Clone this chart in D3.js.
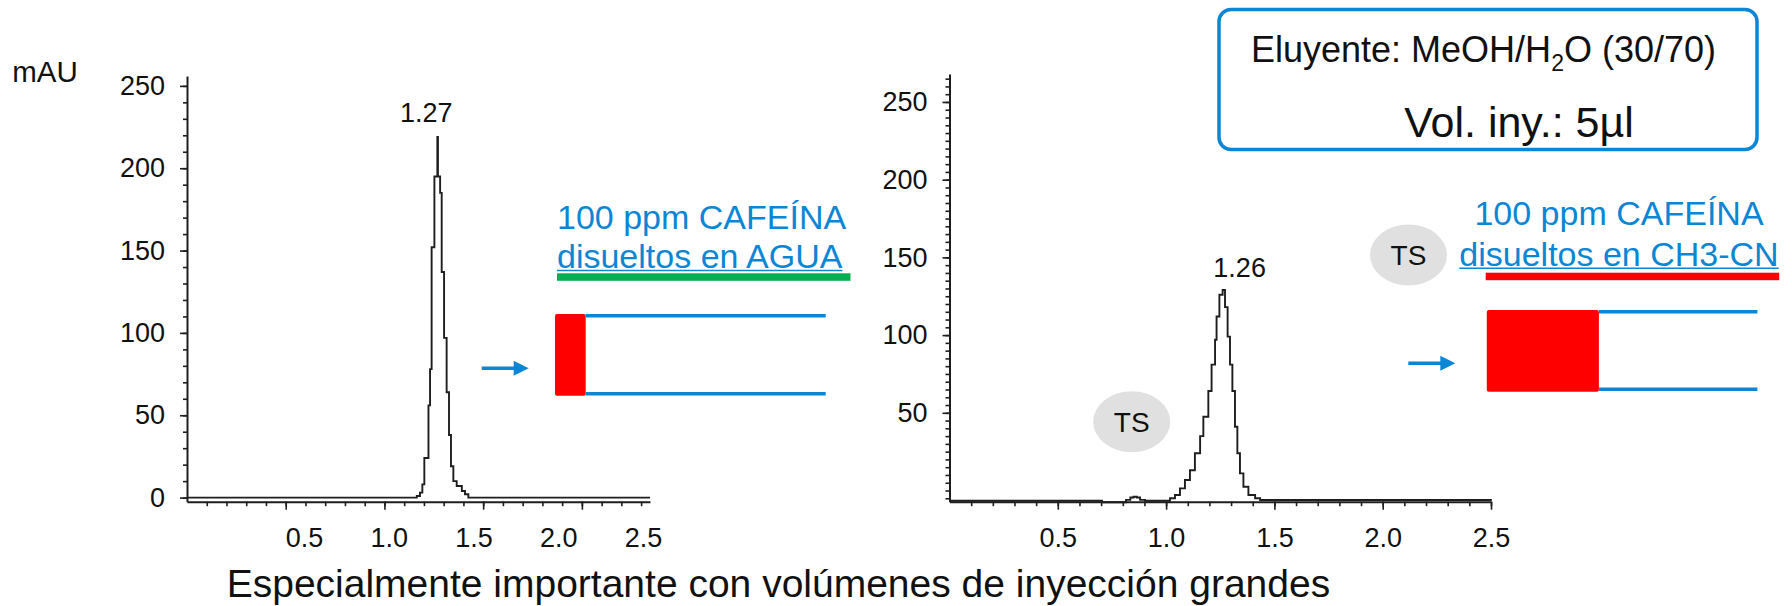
<!DOCTYPE html>
<html>
<head>
<meta charset="utf-8">
<script src="https://cdn.jsdelivr.net/npm/d3@7"></script>
<style>
    body { margin: 0; background: #fff; }
    svg { display: block; font-family: "Liberation Sans", Arial, sans-serif; }
</style>
</head>
<body>
<svg id="chart" width="1792" height="606"></svg>
<script>
// cafeina disuelta en agua: tiempo (min) / absorbancia (mAU), trazo escalonado
const aguaTime = [0, 1.138, 1.164, 1.180, 1.192, 1.202, 1.223, 1.231, 1.239, 1.253, 1.268, 1.271,
    1.282, 1.290, 1.302, 1.315, 1.327, 1.337, 1.349, 1.366, 1.392, 1.408, 1.425, 2.345];
const aguaAbs = [0, 0, 1, 3, 8, 24, 56, 78, 152, 195, 219, 195,
    185, 137, 97, 64, 38, 19, 10, 7, 4, 2, 0, 0];

// cafeina disuelta en CH3-CN (pico TS hacia 0.85 min)
const acnTime = [0, 0.704, 0.815, 0.835, 0.850, 0.865, 0.880, 0.903, 0.995, 1.018, 1.041, 1.064,
    1.087, 1.110, 1.133, 1.157, 1.172, 1.195, 1.210, 1.226, 1.233, 1.246, 1.261, 1.272,
    1.284, 1.295, 1.306, 1.318, 1.329, 1.341, 1.357, 1.380, 1.411, 1.434, 2.5];
const acnAbs = [-6.6, -7.6, -6, -4.5, -4, -4.5, -6, -6.6, -6.6, -5, -2.9, 1.4,
    6.8, 13, 24, 35, 47.5, 64, 81, 97, 112, 126, 129, 118,
    99, 81, 64, 41, 24, 11, 2.4, -2.9, -5, -6.1, -6.6];

const xTickLabels = [0.5, 1.0, 1.5, 2.0, 2.5];
const aguaYTicks = [0, 50, 100, 150, 200, 250];
const acnYTicks = [50, 100, 150, 200, 250];
const peakLabels = ["1.27", "1.26"];

const svg = d3.select("#chart");
const ink = "#1e1e1e";
const blue = "#0b86d5";
const font = "'Liberation Sans', Arial, sans-serif";

const panels = [
    {
        time: aguaTime, abs: aguaAbs, yTicks: aguaYTicks, yMinor: 10,
        x: d3.scaleLinear().domain([0, 2.345]).range([187, 650]),
        y: d3.scaleLinear().domain([-2.5, 256]).range([501.7, 76]),
        // en el original los rótulos del eje de tiempo no caen sobre las marcas
        xLabel: d3.scaleLinear().domain([0.5, 2.5]).range([304, 643]),
        peak: peakLabels[0], peakDx: -11, peakY: 121.5
    },
    {
        time: acnTime, abs: acnAbs, yTicks: acnYTicks, yMinor: 5,
        x: d3.scaleLinear().domain([0, 2.5]).range([949.5, 1491]),
        y: d3.scaleLinear().domain([-7.2, 268]).range([501.7, 74]),
        xLabel: null,
        peak: peakLabels[1], peakDx: 17, peakY: 276.5
    }
];

function styleAxis(g, showDomain) {
    g.attr("color", ink).attr("font-size", 27).attr("font-family", font);
    g.select(".domain").attr("stroke-width", 2).style("display", showDomain ? null : "none");
    g.selectAll(".tick line").attr("stroke-width", 1.6);
    g.selectAll(".tick text").attr("fill", "#111");
}

panels.forEach(p => {
    const [x0, x1] = p.x.domain();
    const [y0, y1] = p.y.domain();
    const baseY = p.y(y0);
    const leftX = p.x(x0);

    const minorX = d3.range(1, Math.floor(x1 * 10 + 1e-6) + 1).map(i => i / 10);
    const majorX = xTickLabels.filter(t => t <= x1 + 1e-6);

    svg.append("g").attr("transform", `translate(0,${baseY})`)
        .call(d3.axisBottom(p.x).tickValues(minorX).tickSize(4.5).tickSizeOuter(0).tickFormat(""))
        .call(g => styleAxis(g, true));
    svg.append("g").attr("transform", `translate(0,${baseY})`)
        .call(d3.axisBottom(p.x).tickValues(majorX).tickSize(8).tickSizeOuter(0).tickFormat(""))
        .call(g => styleAxis(g, false));
    svg.append("g").attr("transform", `translate(0,${baseY})`)
        .call(d3.axisBottom(p.xLabel || p.x).tickValues(xTickLabels).tickSize(0).tickPadding(26)
            .tickFormat(d3.format(".1f")))
        .call(g => styleAxis(g, false));

    const minorY = d3.range(Math.ceil(y0 / p.yMinor) * p.yMinor, y1 + 1e-6, p.yMinor);
    svg.append("g").attr("transform", `translate(${leftX},0)`)
        .call(d3.axisLeft(p.y).tickValues(minorY).tickSize(4).tickSizeOuter(0).tickFormat(""))
        .call(g => styleAxis(g, true));
    svg.append("g").attr("transform", `translate(${leftX},0)`)
        .call(d3.axisLeft(p.y).tickValues(p.yTicks).tickSize(7).tickPadding(15).tickSizeOuter(0))
        .call(g => styleAxis(g, false));

    const pts = p.time.map((t, i) => [t, p.abs[i]]);
    const line = d3.line().x(d => p.x(d[0])).y(d => p.y(d[1])).curve(d3.curveStepAfter);
    svg.append("path").datum(pts)
        .attr("d", line)
        .attr("fill", "none")
        .attr("stroke", ink)
        .attr("stroke-width", 1.9)
        .attr("stroke-linejoin", "miter");

    const top = pts.reduce((a, b) => (b[1] > a[1] ? b : a));
    svg.append("text")
        .attr("x", p.x(top[0]) + p.peakDx)
        .attr("y", p.peakY)
        .attr("text-anchor", "middle")
        .attr("font-size", 27)
        .attr("fill", "#111")
        .text(p.peak);
});

svg.append("text").attr("x", 45).attr("y", 81.7).attr("text-anchor", "middle")
    .attr("font-size", 29.5).attr("fill", "#111").text("mAU");

// cuadro de condiciones
svg.append("rect").attr("x", 1219).attr("y", 9.5).attr("width", 538).attr("height", 140)
    .attr("rx", 12).attr("fill", "#fff").attr("stroke", blue).attr("stroke-width", 3.5);
const elu = svg.append("text").attr("x", 1251).attr("y", 61.7).attr("font-size", 36).attr("fill", "#111");
elu.append("tspan").text("Eluyente: MeOH/H");
elu.append("tspan").attr("font-size", 23).attr("dy", 9).text("2");
elu.append("tspan").attr("dy", -9).text("O (30/70)");
svg.append("text").attr("x", 1519).attr("y", 137).attr("text-anchor", "middle")
    .attr("font-size", 43).attr("fill", "#111").text("Vol. iny.: 5µl");

// esquemas de inyeccion
function sample(cfg) {
    svg.append("text").attr("x", cfg.tx).attr("y", cfg.ty1)
        .attr("text-anchor", cfg.anchor).attr("font-size", 34).attr("fill", blue)
        .text("100 ppm CAFEÍNA");
    const t2 = svg.append("text").attr("x", cfg.tx).attr("y", cfg.ty2)
        .attr("text-anchor", cfg.anchor).attr("font-size", 34).attr("fill", blue)
        .text(cfg.solvent);
    const w = t2.node().getComputedTextLength();
    const sx = cfg.anchor === "middle" ? cfg.tx - w / 2 : cfg.tx;
    svg.append("line").attr("x1", sx).attr("x2", sx + w)
        .attr("y1", cfg.ty2 + 2.5).attr("y2", cfg.ty2 + 2.5)
        .attr("stroke", blue).attr("stroke-width", 1.6);
    svg.append("rect").attr("x", cfg.barX).attr("y", cfg.barY).attr("width", cfg.barW)
        .attr("height", 7.5).attr("fill", cfg.barColor);

    svg.append("line").attr("x1", cfg.plugX + cfg.plugW).attr("x2", cfg.tubeEnd)
        .attr("y1", cfg.tubeTop).attr("y2", cfg.tubeTop).attr("stroke", blue).attr("stroke-width", 3.4);
    svg.append("line").attr("x1", cfg.plugX + cfg.plugW).attr("x2", cfg.tubeEnd)
        .attr("y1", cfg.tubeBot).attr("y2", cfg.tubeBot).attr("stroke", blue).attr("stroke-width", 3.4);
    svg.append("rect").attr("x", cfg.plugX).attr("y", cfg.plugY).attr("width", cfg.plugW)
        .attr("height", cfg.plugH).attr("rx", 2).attr("fill", "#ff0000");

    svg.append("line").attr("x1", cfg.arrowX).attr("x2", cfg.arrowX + 34)
        .attr("y1", cfg.arrowY).attr("y2", cfg.arrowY).attr("stroke", blue).attr("stroke-width", 3.4);
    svg.append("path")
        .attr("d", `M${cfg.arrowX + 32},${cfg.arrowY - 7.5}L${cfg.arrowX + 47},${cfg.arrowY}L${cfg.arrowX + 32},${cfg.arrowY + 7.5}Z`)
        .attr("fill", blue);
}

sample({
    tx: 557, ty1: 229.3, ty2: 268, anchor: "start", solvent: "disueltos en AGUA",
    barX: 557, barY: 273.3, barW: 293.5, barColor: "#00b050",
    plugX: 555, plugY: 314, plugW: 30.7, plugH: 81.7,
    tubeTop: 315.7, tubeBot: 393.7, tubeEnd: 825.7,
    arrowX: 481.7, arrowY: 368.3
});
sample({
    tx: 1619, ty1: 225, ty2: 265.7, anchor: "middle", solvent: "disueltos en CH3-CN",
    barX: 1485.7, barY: 272.7, barW: 293.5, barColor: "#ff0000",
    plugX: 1486.8, plugY: 310, plugW: 112.1, plugH: 81.7,
    tubeTop: 311.7, tubeBot: 389.3, tubeEnd: 1757.4,
    arrowX: 1408.3, arrowY: 363.3
});

// marcas TS
[[1131.7, 421.7], [1408.5, 255]].forEach(([cx, cy]) => {
    svg.append("ellipse").attr("cx", cx).attr("cy", cy).attr("rx", 38.5).attr("ry", 30.5)
        .attr("fill", "#e0e0e0");
    svg.append("text").attr("x", cx).attr("y", cy + 10).attr("text-anchor", "middle")
        .attr("font-size", 28).attr("fill", "#111").text("TS");
});

svg.append("text").attr("x", 226.7).attr("y", 597).attr("font-size", 39).attr("fill", "#111")
    .text("Especialmente importante con volúmenes de inyección grandes");
</script>
</body>
</html>
